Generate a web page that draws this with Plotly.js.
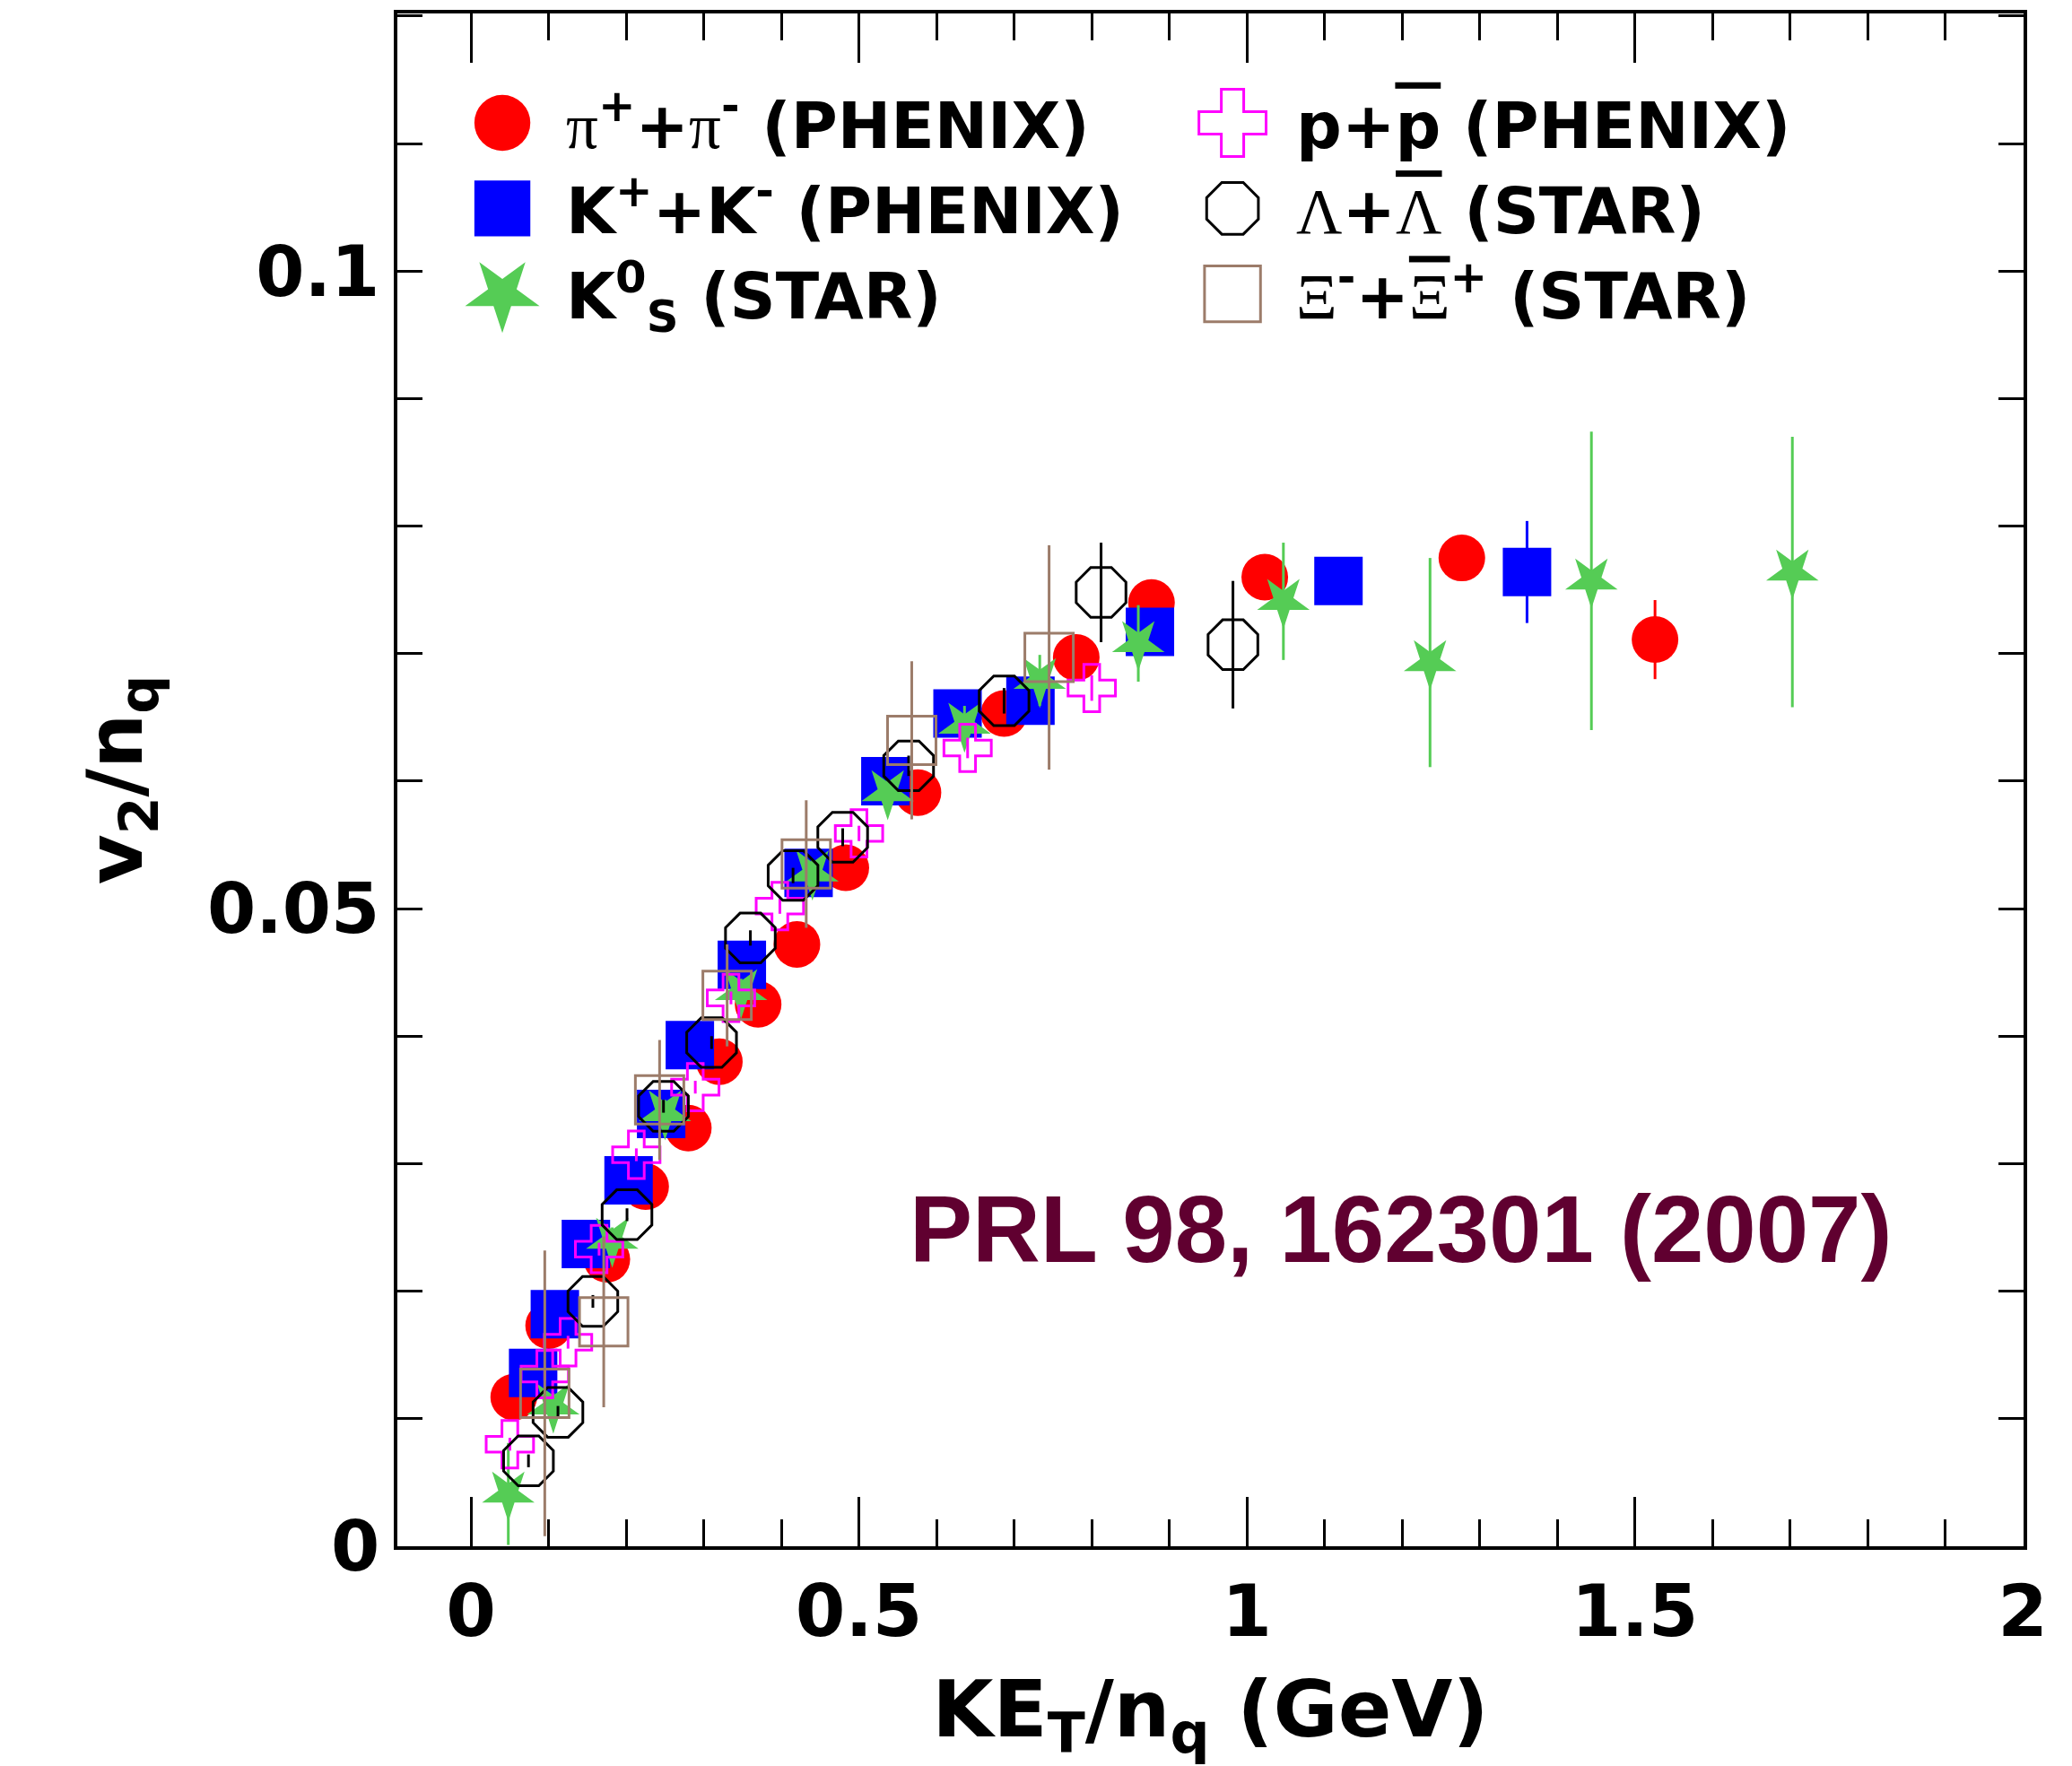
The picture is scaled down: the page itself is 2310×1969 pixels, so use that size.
<!DOCTYPE html>
<html>
<head>
<meta charset="utf-8">
<script src="https://cdn.plot.ly/plotly-3.0.1.min.js"></script>
<style>html,body{margin:0;padding:0;background:#fff;}</style>
</head>
<body>
<div id="chart" style="width:2310px;height:1969px;"></div>
<script>
// ---- data ----
const piX = [0.055, 0.10, 0.175, 0.225, 0.28, 0.32, 0.37, 0.42, 0.483, 0.576, 0.687, 0.780, 0.877, 1.023, 1.277, 1.526];
const piY = [0.0117, 0.0173, 0.0225, 0.0282, 0.0328, 0.0380, 0.0425, 0.0472, 0.0532, 0.0591, 0.0653, 0.0697, 0.0740, 0.0760, 0.0775, 0.0711];
const piE = [0.0006, 0.0006, 0.0006, 0.0006, 0.0006, 0.0006, 0.0006, 0.0006, 0.0006, 0.0006, 0.0006, 0.0007, 0.0008, 0.0010, 0.0010, 0.0031];

const kX = [0.08, 0.108, 0.148, 0.203, 0.245, 0.282, 0.349, 0.435, 0.534, 0.627, 0.721, 0.875, 1.118, 1.361];
const kY = [0.0136, 0.0182, 0.0237, 0.0287, 0.0339, 0.0393, 0.0456, 0.0528, 0.0600, 0.0653, 0.0663, 0.0717, 0.0757, 0.0764];
const kE = [0.0005, 0.0005, 0.0005, 0.0005, 0.0005, 0.0005, 0.0005, 0.0006, 0.0006, 0.0006, 0.0007, 0.0008, 0.0012, 0.0040];

const ksX = [0.048, 0.106, 0.182, 0.25, 0.348, 0.44, 0.537, 0.636, 0.733, 0.86, 1.047, 1.236, 1.444, 1.703];
const ksY = [0.0041, 0.0110, 0.0240, 0.0340, 0.0435, 0.0528, 0.0591, 0.0644, 0.0679, 0.0708, 0.0741, 0.0693, 0.0757, 0.0764];
const ksE = [0.0040, 0.0010, 0.0010, 0.0010, 0.0010, 0.0010, 0.0010, 0.0015, 0.0020, 0.0030, 0.0046, 0.0082, 0.0117, 0.0106];

const pX = [0.05, 0.095, 0.125, 0.165, 0.213, 0.289, 0.335, 0.398, 0.50, 0.64, 0.80];
const pY = [0.0080, 0.0135, 0.0160, 0.0233, 0.0307, 0.0360, 0.0430, 0.0502, 0.0559, 0.0626, 0.0673];
const pE = [0.0005, 0.0005, 0.0005, 0.0005, 0.0005, 0.0005, 0.0005, 0.0006, 0.0006, 0.0008, 0.0010];

const lamX = [0.074, 0.112, 0.157, 0.201, 0.248, 0.31, 0.36, 0.415, 0.479, 0.564, 0.687, 0.812, 0.982];
const lamY = [0.0067, 0.0105, 0.0192, 0.0260, 0.0345, 0.0395, 0.0477, 0.0526, 0.0556, 0.0612, 0.0663, 0.0748, 0.0707];
const lamE = [0.0005, 0.0005, 0.0005, 0.0005, 0.0005, 0.0005, 0.0006, 0.0006, 0.0007, 0.0008, 0.0010, 0.0039, 0.0050];

const xiX = [0.095, 0.171, 0.243, 0.33, 0.432, 0.568, 0.745];
const xiY = [0.0120, 0.0176, 0.0350, 0.0432, 0.0535, 0.0632, 0.0697];
const xiE = [0.0112, 0.0067, 0.0047, 0.0040, 0.0050, 0.0062, 0.0088];

const yMajorTicks = [0, 0.05, 0.1];
const yLongTicks = [0.05];

const G = s => '<span style="font-family:Liberation Serif;font-weight:normal">' + s + '</span>';
const OL = s => '<span style="text-decoration:overline">' + s + '</span>';
const names = {
  pi: G('π') + '<sup>+</sup>+' + G('π') + '<sup>-</sup> (PHENIX)',
  k: 'K<sup>+</sup>+K<sup>-</sup> (PHENIX)',
  ks: 'K<sup>0</sup><sub>S</sub> (STAR)',
  p: 'p+' + OL('p') + ' (PHENIX)',
  lam: G('Λ') + '+' + G(OL('Λ')) + ' (STAR)',
  xi: G('Ξ') + '<sup>-</sup>+' + G(OL('Ξ')) + '<sup>+</sup> (STAR)'
};

const colors = {pi:'#ff0000', k:'#0000ff', ks:'#55cc55', p:'#ff00ff', lam:'#000000', xi:'#9c7c6a'};

function tr(x, y, e, name, sym, size, color, legend, filled, angle) {
  const m = {symbol: sym, size: size, color: color,
             line: {color: color, width: filled ? 0 : 3}};
  if (angle) m.angle = angle;
  return {x: x, y: y, type: 'scatter', mode: 'markers', name: name, legend: legend,
          marker: m,
          error_y: {type: 'data', array: e, visible: true, color: color, thickness: 3, width: 0}};
}

const data = [
  tr(piX, piY, piE, names.pi, 'circle', 52, colors.pi, 'legend', true),
  tr(kX, kY, kE, names.k, 'square', 54, colors.k, 'legend', true),
  tr(ksX, ksY, ksE, names.ks, 'star', 44, colors.ks, 'legend', true, 180),
  tr(pX, pY, pE, names.p, 'cross-open', 44, colors.p, 'legend2', false),
  tr(lamX, lamY, lamE, names.lam, 'octagon-open', 60, colors.lam, 'legend2', false),
  tr(xiX, xiY, xiE, names.xi, 'square-open', 54, colors.xi, 'legend2', false)
];

const legFont = {family: 'DejaVu Sans', size: 71, weight: 'bold', color: '#000'};
const yRange = [0, 0.1202];

const layout = {
  width: 2310, height: 1969,
  margin: {l: 443, r: 54, t: 15, b: 245},
  paper_bgcolor: '#fff', plot_bgcolor: '#fff',
  showlegend: true,
  xaxis: {
    range: [-0.095, 2.001], showgrid: false, zeroline: false,
    showline: true, linewidth: 4, linecolor: '#000', mirror: 'allticks',
    ticks: 'inside', ticklen: 55, tickwidth: 3, tickcolor: '#000',
    tick0: 0, dtick: 0.5,
    minor: {dtick: 0.1, tick0: 0, ticks: 'inside', ticklen: 30, tickwidth: 3, tickcolor: '#000', showgrid: false},
    tickfont: {family: 'DejaVu Sans', size: 80, weight: 'bold', color: '#000'}, ticklabelstandoff: 0,
    title: {text: 'KE<sub>T</sub>/n<sub>q</sub> (GeV)', font: {family: 'DejaVu Sans', size: 88, weight: 'bold', color: '#000'}, standoff: 68},
    automargin: false
  },
  yaxis: {
    range: yRange, showgrid: false, zeroline: false,
    showline: true, linewidth: 4, linecolor: '#000', mirror: 'allticks',
    ticks: 'inside', ticklen: 28, tickwidth: 3, tickcolor: '#000',
    tickmode: 'array', tickvals: yMajorTicks,
    minor: {dtick: 0.01, tick0: 0, ticks: 'inside', ticklen: 28, tickwidth: 3, tickcolor: '#000', showgrid: false},
    tickfont: {family: 'DejaVu Sans', size: 78, weight: 'bold', color: '#000'}, ticklabelstandoff: 0,
    title: {text: 'v<sub>2</sub>/n<sub>q</sub>', font: {family: 'DejaVu Sans', size: 86, weight: 'bold', color: '#000'}, standoff: 45},
    automargin: false
  },
  yaxis2: {
    range: yRange, overlaying: 'y', anchor: 'x', side: 'left',
    showgrid: false, zeroline: false, showline: false, showticklabels: false,
    ticks: 'inside', ticklen: 60, tickwidth: 3, tickcolor: '#000', mirror: 'ticks',
    tickmode: 'array', tickvals: yLongTicks
  },
  legend: {x: 0.0254, y: 0.9594, xanchor: 'left', yanchor: 'top', bgcolor: 'rgba(0,0,0,0)',
           font: legFont, itemwidth: 132, tracegroupgap: 0, borderwidth: 0, valign: 'middle'},
  legend2: {x: 0.4744, y: 0.9594, xanchor: 'left', yanchor: 'top', bgcolor: 'rgba(0,0,0,0)',
            font: legFont, itemwidth: 132, tracegroupgap: 0, borderwidth: 0, valign: 'middle'},
  annotations: [{
    xref: 'paper', yref: 'paper', x: 0.617, y: 0.207, xanchor: 'center', yanchor: 'middle',
    text: 'PRL 98, 162301 (2007)', showarrow: false,
    font: {family: 'Liberation Sans', size: 105, weight: 'bold', color: '#600030'}
  }]
};

Plotly.newPlot('chart', data, layout, {staticPlot: true}).then(function (gd) {
  // enlarge legend symbols (Plotly caps them at 16px)
  gd.querySelectorAll('.legendpoints path.scatterpts').forEach(function (p) {
    const t = p.getAttribute('transform') || '';
    p.setAttribute('transform', t + ' scale(3.9)');
    p.style.vectorEffect = 'non-scaling-stroke';
  });
});
</script>
</body>
</html>
